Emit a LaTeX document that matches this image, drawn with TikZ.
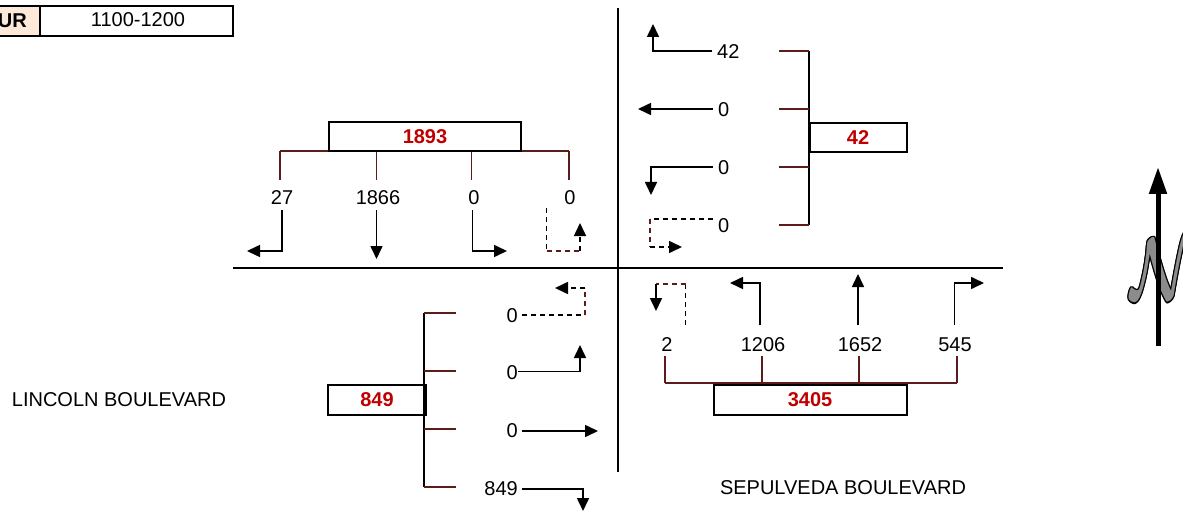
\documentclass[tikz,border=0pt]{standalone}
\usepackage{fontspec}
\setmainfont{Liberation Sans}
\usetikzlibrary{arrows.meta}
\definecolor{brk}{RGB}{92,28,28}
\definecolor{redtxt}{RGB}{192,0,0}
\definecolor{peach}{RGB}{253,233,217}
\definecolor{ngray}{RGB}{140,140,140}
\tikzset{
  lbl/.style={font=\fontsize{20}{23}\selectfont, inner sep=0pt},
  totbox/.style={draw=black, line width=2pt, font=\fontsize{20}{23}\selectfont\bfseries, text=redtxt, inner sep=0pt},
  brline/.style={draw=brk, line width=1.8pt},
  stemline/.style={draw=black, line width=1.8pt},
  arr/.style={draw=black, line width=1.6pt, -{Triangle[length=13pt,width=12pt]}},
  dsh/.style={line width=1.6pt, dash pattern=on 5pt off 4pt},
  axis/.style={draw=black, line width=2pt}
}
\begin{document}
\begin{tikzpicture}[x=1pt,y=-1pt]
\useasboundingbox (0,0) rectangle (1183,513);
\begin{scope}
\clip (0,0) rectangle (1183,513);
% hour box
\fill[peach] (-30,6) rectangle (40,36);
\draw[line width=1.5pt] (-30,6) rectangle (233,36);
\draw[line width=1.5pt] (40,6) -- (40,36);
\node[lbl, font=\fontsize{20}{23}\selectfont\bfseries, anchor=east] (hourlbl) at (27,21) {HOUR};
\node[lbl] (hourval) at (138,20) {1100-1200};

% main axes
\coordinate (hw) at (233,268); \coordinate (he) at (1003,268);
\coordinate (vn) at (618,8);  \coordinate (vs) at (618,472);
\draw[axis] (hw) -- (he);
\draw[axis] (vn) -- (vs);

% ---------- North approach ----------
\draw[brline] (280,151) -- (569,151);
\foreach \x in {280,376.5,471.5,569} \draw[brline] (\x,151) -- (\x,180);
\node[totbox, minimum width=192pt, minimum height=29pt] (ntot) at (425,137) {1893};
\node[lbl] (n1) at (282,198) {27};
\node[lbl] (n2) at (378,198) {1866};
\node[lbl] (n3) at (474,198) {0};
\node[lbl] (n4) at (570,198) {0};
\coordinate (n1s) at (282,210); \coordinate (n1e) at (247,251);
\draw[arr] (n1s) |- (n1e);
\coordinate (n2s) at (376.5,210); \coordinate (n2e) at (376.5,259);
\draw[arr] (n2s) -- (n2e);
\coordinate (n3s) at (472.5,210); \coordinate (n3e) at (507,251);
\draw[arr] (n3s) |- (n3e);
\coordinate (n4s) at (546.5,208); \coordinate (n4a) at (546.5,251); \coordinate (n4b) at (580,251); \coordinate (n4e) at (580,223);
\draw[dsh] (n4s) -- (n4a);
\draw[dsh, brk] (n4a) -- (n4b);
\draw[arr, dsh] (n4b) -- (n4e);

% ---------- East approach ----------
\draw[stemline] (809,51) -- (809,225);
\foreach \y in {51,109,167,225} \draw[brline] (779,\y) -- (809,\y);
\node[totbox, minimum width=97pt, minimum height=29pt] (etot) at (858,137.5) {42};
\node[lbl, anchor=west] (e1) at (717,52) {42};
\node[lbl, anchor=west] (e2) at (718,110) {0};
\node[lbl, anchor=west] (e3) at (718,168) {0};
\node[lbl, anchor=west] (e4) at (718,226) {0};
\coordinate (e1s) at (712,51); \coordinate (e1e) at (653,24);
\draw[arr] (e1s) -| (e1e);
\coordinate (e2s) at (713,109); \coordinate (e2e) at (638,109);
\draw[arr] (e2s) -- (e2e);
\coordinate (e3s) at (713,167); \coordinate (e3e) at (651,195);
\draw[arr] (e3s) -| (e3e);
\coordinate (e4s) at (713,219); \coordinate (e4a) at (650,219); \coordinate (e4b) at (650,247); \coordinate (e4e) at (682,247);
\draw[dsh] (e4s) -- (e4a);
\draw[dsh, brk] (e4a) -- (e4b);
\draw[arr, dsh] (e4b) -- (e4e);

% ---------- South approach ----------
\draw[brline] (665,383) -- (957,383);
\foreach \x in {665,762,859,957} \draw[brline] (\x,383) -- (\x,356);
\node[totbox, minimum width=193pt, minimum height=30pt] (stot) at (810,400) {3405};
\node[lbl] (s1) at (667,345) {2};
\node[lbl] (s2) at (763,345) {1206};
\node[lbl] (s3) at (860,345) {1652};
\node[lbl] (s4) at (955,345) {545};
\coordinate (s1s) at (685.5,325); \coordinate (s1a) at (685.5,284); \coordinate (s1b) at (656,284); \coordinate (s1e) at (656,311);
\draw[dsh] (s1s) -- (s1a);
\draw[dsh, brk] (s1a) -- (s1b);
\draw[arr] (s1b) -- (s1e);
\coordinate (s2s) at (760,325); \coordinate (s2e) at (730,283);
\draw[arr] (s2s) |- (s2e);
\coordinate (s3s) at (858,325); \coordinate (s3e) at (858,274);
\draw[arr] (s3s) -- (s3e);
\coordinate (s4s) at (954.5,325); \coordinate (s4e) at (984,283);
\draw[arr] (s4s) |- (s4e);

% ---------- West approach ----------
\draw[stemline] (424,313) -- (424,487);
\foreach \y in {313,371,429,487} \draw[brline] (424,\y) -- (456,\y);
\node[totbox, minimum width=98pt, minimum height=30pt] (wtot) at (377,400) {849};
\node[lbl, anchor=east] (w1) at (518,316) {0};
\node[lbl, anchor=east] (w2) at (518,373) {0};
\node[lbl, anchor=east] (w3) at (518,431) {0};
\node[lbl, anchor=east] (w4) at (518,489) {849};
\coordinate (w1s) at (522,315); \coordinate (w1a) at (585,315); \coordinate (w1b) at (585,288); \coordinate (w1e) at (555,288);
\draw[dsh] (w1s) -- (w1a);
\draw[dsh, brk] (w1a) -- (w1b);
\draw[arr, dsh] (w1b) -- (w1e);
\coordinate (w2s) at (518,371.5); \coordinate (w2e) at (580,345);
\draw[arr] (w2s) -| (w2e);
\coordinate (w3s) at (522,431); \coordinate (w3e) at (598,431);
\draw[arr] (w3s) -- (w3e);
\coordinate (w4s) at (522,489); \coordinate (w4e) at (583,511);
\draw[arr] (w4s) -| (w4e);

% street names
\node[lbl] (lincoln) at (119,400) {LINCOLN BOULEVARD};
\node[lbl] (sepulveda) at (843,488) {SEPULVEDA BOULEVARD};

% north arrow
\coordinate (nas) at (1158,346); \coordinate (nae) at (1158,167);
\foreach \dx/\dy in {-1.2/0,1.2/0,0/-1.2,0/1.2,-0.9/-0.9,0.9/0.9,-0.9/0.9,0.9/-0.9}
  \node[inner sep=0pt, text=black] at (1163+\dx,269+\dy) {\scalebox{6}[8.7]{\boldmath$\mathcal{N}$}};
\node[inner sep=0pt, text=ngray] (nletter) at (1163,269) {\scalebox{6}[8.7]{\boldmath$\mathcal{N}$}};
\draw[line width=5pt, -{Triangle[length=27pt,width=17pt]}] (nas) -- (nae);
\end{scope}
\end{tikzpicture}
\end{document}
